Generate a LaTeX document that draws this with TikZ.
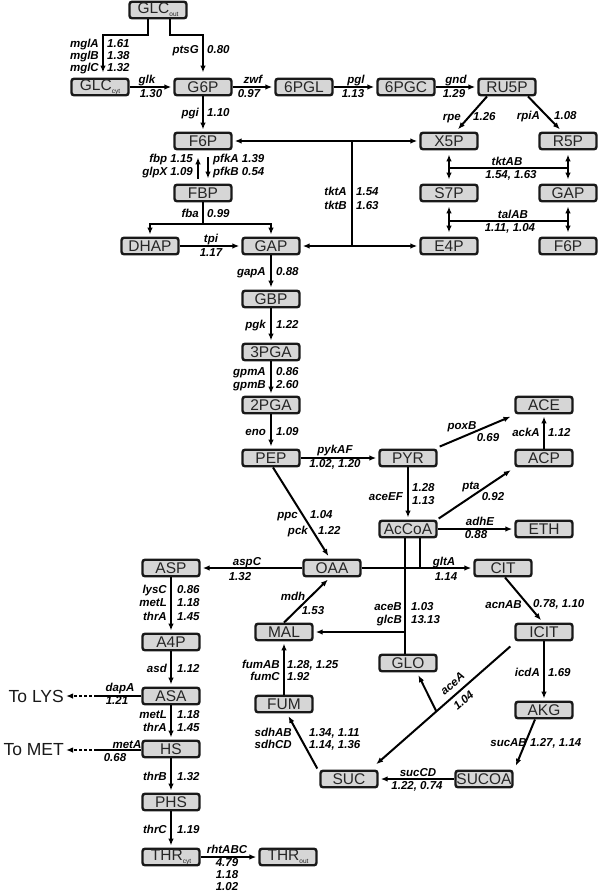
\documentclass[tikz,border=0pt]{standalone}
\usepackage{fontspec}
\setmainfont{Liberation Sans}
\usetikzlibrary{arrows.meta,calc}
\newcommand\sbs[1]{{\fontsize{6.5}{6.5}\selectfont\raisebox{-3pt}{#1}}}
\newcounter{lbc}
\newcommand\lb[3]{\stepcounter{lbc}\node[lab,anchor=#1] (lb\thelbc) at (#2) {#3};}
\begin{document}
\begin{tikzpicture}[x=1pt,y=-1pt,
 met/.style={draw=black!90, line width=2.4pt, rounded corners=2.5pt, fill=black!16,
   minimum width=57pt, minimum height=16.5pt, inner sep=0pt,
   font=\fontsize{15.5}{15.5}\selectfont, text=black!85},
 big/.style={font=\fontsize{17.5}{17.5}\selectfont, inner sep=0pt, text=black!90},
 lab/.style={font=\fontsize{11.5}{11.5}\selectfont\bfseries\itshape, inner sep=0pt,
   text height=8.3pt, text depth=2pt},
 ln/.style={line width=2pt},
 tip/.tip={Latex[length=7pt,width=5.5pt]},
 ar/.style={line width=2pt, -tip, shorten >=2pt},
 dar/.style={line width=2pt, tip-tip, shorten >=4pt, shorten <=4pt},
]
\useasboundingbox (0,0) rectangle (600,892);
% ---------- metabolites ----------
\node[met] (GLCout) at (158,10) {GLC\sbs{out}};
\node[met] (GLCcyt) at (100,87) {GLC\sbs{cyt}};
\node[met] (G6P) at (203,87) {G6P};
\node[met] (PGL) at (304,87) {6PGL};
\node[met] (PGC) at (406,87) {6PGC};
\node[met] (RU5P) at (507,87) {RU5P};
\node[met] (X5P) at (449,141) {X5P};
\node[met] (R5P) at (568,141) {R5P};
\node[met] (S7P) at (449,193) {S7P};
\node[met] (GAPr) at (568,193) {GAP};
\node[met] (E4P) at (449,246) {E4P};
\node[met] (F6Pr) at (568,246) {F6P};
\node[met] (F6P) at (203,141) {F6P};
\node[met] (FBP) at (203,193) {FBP};
\node[met] (DHAP) at (150,246) {DHAP};
\node[met] (GAP) at (271,246) {GAP};
\node[met] (GBP) at (271,299) {GBP};
\node[met] (PGAc) at (271,352) {3PGA};
\node[met] (PGAb) at (271,405) {2PGA};
\node[met] (PEP) at (271,458) {PEP};
\node[met] (PYR) at (408,458) {PYR};
\node[met] (ACE) at (544,405) {ACE};
\node[met] (ACP) at (544,458) {ACP};
\node[met] (AcCoA) at (408,529) {AcCoA};
\node[met] (ETH) at (544,529) {ETH};
\node[met] (OAA) at (332,568) {OAA};
\node[met] (CIT) at (503,568) {CIT};
\node[met] (ASP) at (171,568) {ASP};
\node[met] (MAL) at (284,632) {MAL};
\node[met] (ICIT) at (544,632) {ICIT};
\node[met] (GLO) at (408,663) {GLO};
\node[met] (A4P) at (171,642) {A4P};
\node[met] (ASA) at (171,696) {ASA};
\node[met] (FUM) at (284,704) {FUM};
\node[met] (AKG) at (544,710) {AKG};
\node[met] (HS) at (171,749) {HS};
\node[met] (SUC) at (349,779) {SUC};
\node[met] (SUCOA) at (484,779) {SUCOA};
\node[met] (PHS) at (171,802) {PHS};
\node[met] (THRcyt) at (171,857) {THR\sbs{cyt}};
\node[met] (THRout) at (288,857) {THR\sbs{out}};
\node[big, anchor=east] (ToLYS) at (64,696) {To LYS};
\node[big, anchor=east] (ToMET) at (64,750) {To MET};
% ---------- connectors ----------
\coordinate (j1) at (103,35);
\coordinate (j2) at (203,35);
\draw[ar, shorten >=5pt] ([xshift=-10pt]GLCout.south) |- (j1) -- (j1 |- GLCcyt.north);
\draw[ar, shorten >=5pt] ([xshift=12pt]GLCout.south) |- (j2) -- (j2 |- G6P.north);
\draw[ar] (GLCcyt.east) -- (G6P.west);
\draw[ar] (G6P.east) -- (PGL.west);
\draw[ar] (PGL.east) -- (PGC.west);
\draw[ar] (PGC.east) -- (RU5P.west);
\draw[ar, shorten >=3pt] ([xshift=-20pt]RU5P.south) -- ([xshift=7pt]X5P.north);
\draw[ar, shorten >=3pt] ([xshift=21pt]RU5P.south) -- ([xshift=-6pt]R5P.north);
\draw[ar] (G6P.south) -- (F6P.north);
\draw[ar, shorten >=7pt, shorten <=5pt] ([xshift=-5pt]FBP.north) -- ([xshift=-5pt]F6P.south);
\draw[ar, shorten >=5pt, shorten <=7pt] ([xshift=5pt]F6P.south) -- ([xshift=5pt]FBP.north);
\coordinate (fb) at (203,224);
\draw[ln] (FBP.south) -- (fb);
\draw[ar] (fb) -| (DHAP.north);
\draw[ar] (fb) -| (GAP.north);
\draw[ar] (DHAP.east) -- (GAP.west);
% transketolase A/B
\coordinate (t1) at (352,141);
\coordinate (t2) at (352,246);
\draw[ln] (t1) -- (t2);
\draw[ar] (t1) -- (F6P.east);
\draw[ar] (t1) -- (X5P.west);
\draw[ar] (t2) -- (GAP.east);
\draw[ar] (t2) -- (E4P.west);
% tktAB / talAB
\draw[dar] (X5P.south) -- (S7P.north);
\draw[dar] (R5P.south) -- (GAPr.north);
\coordinate (b1) at (449,168); \coordinate (b2) at (568,168);
\draw[ln] (b1) -- (b2);
\draw[dar] (S7P.south) -- (E4P.north);
\draw[dar] (GAPr.south) -- (F6Pr.north);
\coordinate (c1) at (449,221); \coordinate (c2) at (568,221);
\draw[ln] (c1) -- (c2);
% glycolysis
\draw[ar] (GAP.south) -- (GBP.north);
\draw[ar] (GBP.south) -- (PGAc.north);
\draw[ar] (PGAc.south) -- (PGAb.north);
\draw[ar] (PGAb.south) -- (PEP.north);
\draw[ar] (PEP.east) -- (PYR.west);
\draw[ar, shorten >=3pt] ($(PYR.north east)+(2,-2)$) -- ($(ACE.south west)+(-1,1)$);
\draw[ar] (ACP.north) -- (ACE.south);
\draw[ar, shorten >=3pt] ($(AcCoA.north east)+(1,-1)$) -- ($(ACP.south west)+(-1,1)$);
\draw[ar] (PYR.south) -- (AcCoA.north);
\draw[ar] (AcCoA.east) -- (ETH.west);
\draw[ar, shorten >=3pt] ([xshift=2pt]PEP.south) -- ([xshift=-2pt]OAA.north);
\draw[ar] (OAA.west) -- (ASP.east);
\draw[ar] (OAA.east) -- (CIT.west);
\coordinate (ac) at ([xshift=12pt]AcCoA.south);
\draw[ln] (ac) -- (ac |- OAA.east);
% glyoxylate shunt
\coordinate (gl) at ([xshift=-3pt]AcCoA.south);
\draw[ln] (gl) -- (gl |- GLO.north);
\coordinate (gm) at (gl |- MAL.east);
\draw[ar] (gm) -- (MAL.east);
\draw[ar, shorten >=3pt] (MAL.north) -- ([xshift=-2pt]OAA.south);
\draw[ar] (FUM.north) -- (MAL.south);
\draw[ar, shorten >=3pt] ($(SUC.north west)+(-2,-1)$) -- ([xshift=3pt]FUM.south);
\draw[ar, shorten >=3pt] ([xshift=2pt]CIT.south) -- ([xshift=-1pt]ICIT.north);
\draw[ar] (ICIT.south) -- (AKG.north);
\draw[ar, shorten >=3pt] ([xshift=-9pt]AKG.south) -- ($(SUCOA.north east)+(1,-1)$);
\draw[ar] (SUCOA.west) -- (SUC.east);
\coordinate (ia) at ($(ICIT.south west)+(-4,5)$);
\coordinate (sa) at ($(SUC.north east)+(-4,-4)$);
\draw[ar] (ia) -- (sa);
\coordinate (br) at ($(ia)!0.545!(sa)$);
\draw[ar, shorten >=3pt] (br) -- ([xshift=9pt]GLO.south);
% aspartate family
\draw[ar] (ASP.south) -- (A4P.north);
\draw[ar] (A4P.south) -- (ASA.north);
\draw[ar] (ASA.south) -- (HS.north);
\draw[ar] (HS.south) -- (PHS.north);
\draw[ar] (PHS.south) -- (THRcyt.north);
\draw[ar] (THRcyt.east) -- (THRout.west);
\coordinate (dl) at (97,696);
\draw[ln] (ASA.west) -- (dl);
\draw[ar, dash pattern=on 3pt off 2pt] (dl) -- (ToLYS.east);
\coordinate (dm) at (97,750);
\draw[ln] (HS.west |- dm) -- (dm);
\draw[ar, dash pattern=on 3pt off 2pt] (dm) -- (ToMET.east);
% ---------- labels ----------
\lb{east}{99,44}{mglA} \lb{west}{107,44}{1.61}
\lb{east}{99,56}{mglB} \lb{west}{107,56}{1.38}
\lb{east}{99,68}{mglC} \lb{west}{107,68}{1.32}
\lb{east}{199,50}{ptsG} \lb{west}{207,50}{0.80}
\lb{center}{147,80}{glk} \lb{center}{151,94}{1.30}
\lb{center}{253,80}{zwf} \lb{center}{249,94}{0.97}
\lb{center}{356,80}{pgl} \lb{center}{353,94}{1.13}
\lb{center}{456,80}{gnd} \lb{center}{454,94}{1.29}
\lb{east}{461,117}{rpe} \lb{west}{473,117}{1.26}
\lb{east}{540,116}{rpiA} \lb{west}{554,116}{1.08}
\lb{east}{199,113}{pgi} \lb{west}{207,113}{1.10}
\lb{east}{193,159}{fbp 1.15} \lb{east}{193,172}{glpX 1.09}
\lb{west}{213,159}{pfkA 1.39} \lb{west}{213,172}{pfkB 0.54}
\lb{east}{199,214}{fba} \lb{west}{207,214}{0.99}
\lb{center}{211,239}{tpi} \lb{center}{211,253}{1.17}
\lb{east}{347,192}{tktA} \lb{west}{356,192}{1.54}
\lb{east}{347,206}{tktB} \lb{west}{356,206}{1.63}
\lb{center}{507,162}{tktAB} \lb{center}{511,175}{1.54, 1.63}
\lb{center}{513,215}{talAB} \lb{center}{510,228}{1.11, 1.04}
\lb{east}{266,272}{gapA} \lb{west}{276,272}{0.88}
\lb{east}{266,325}{pgk} \lb{west}{276,325}{1.22}
\lb{east}{266,372}{gpmA} \lb{west}{276,372}{0.86}
\lb{east}{266,385}{gpmB} \lb{west}{276,385}{2.60}
\lb{east}{266,432}{eno} \lb{west}{276,432}{1.09}
\lb{center}{335,450}{pykAF} \lb{center}{335,464}{1.02, 1.20}
\lb{center}{462,426}{poxB} \lb{center}{488,438}{0.69}
\lb{east}{540,433}{ackA} \lb{west}{548,433}{1.12}
\lb{center}{471,486}{pta} \lb{center}{493,497}{0.92}
\lb{east}{403,497}{aceEF} \lb{west}{412,488}{1.28} \lb{west}{412,501}{1.13}
\lb{center}{480,522}{adhE} \lb{center}{476,535}{0.88}
\lb{east}{298,515}{ppc} \lb{west}{310,515}{1.04}
\lb{east}{308,531}{pck} \lb{west}{318,531}{1.22}
\lb{center}{247,562}{aspC} \lb{center}{240,577}{1.32}
\lb{center}{444,562}{gltA} \lb{center}{446,577}{1.14}
\lb{east}{402,607}{aceB} \lb{west}{411,607}{1.03}
\lb{east}{402,620}{glcB} \lb{west}{411,620}{13.13}
\lb{center}{293,597}{mdh} \lb{center}{313,611}{1.53}
\lb{east}{522,605}{acnAB} \lb{west}{533,604}{0.78, 1.10}
\lb{east}{540,673}{icdA} \lb{west}{548,673}{1.69}
\lb{east}{280,665}{fumAB} \lb{west}{287,665}{1.28, 1.25}
\lb{east}{280,677}{fumC} \lb{west}{287,677}{1.92}
\lb{east}{292,733}{sdhAB} \lb{west}{309,733}{1.34, 1.11}
\lb{east}{292,745}{sdhCD} \lb{west}{309,745}{1.14, 1.36}
\lb{east}{527,743}{sucAB} \lb{west}{530,743}{1.27, 1.14}
\lb{center}{418,773}{sucCD} \lb{center}{417,786}{1.22, 0.74}
\node[lab, rotate=41] (aceA) at (453,684) {aceA};
\node[lab, rotate=41] (aceAv) at (464,701) {1.04};
\lb{east}{167,590}{lysC} \lb{west}{177,590}{0.86}
\lb{east}{167,603}{metL} \lb{west}{177,603}{1.18}
\lb{east}{167,617}{thrA} \lb{west}{177,617}{1.45}
\lb{east}{167,669}{asd} \lb{west}{177,669}{1.12}
\lb{center}{120,688}{dapA} \lb{center}{117,701}{1.21}
\lb{east}{167,715}{metL} \lb{west}{177,715}{1.18}
\lb{east}{167,728}{thrA} \lb{west}{177,728}{1.45}
\lb{center}{127,745}{metA} \lb{center}{115,758}{0.68}
\lb{east}{167,777}{thrB} \lb{west}{177,777}{1.32}
\lb{east}{167,830}{thrC} \lb{west}{177,830}{1.19}
\lb{center}{227,850}{rhtABC} \lb{center}{227,863}{4.79}
\lb{center}{227,875}{1.18} \lb{center}{227,887}{1.02}
\end{tikzpicture}
\end{document}
